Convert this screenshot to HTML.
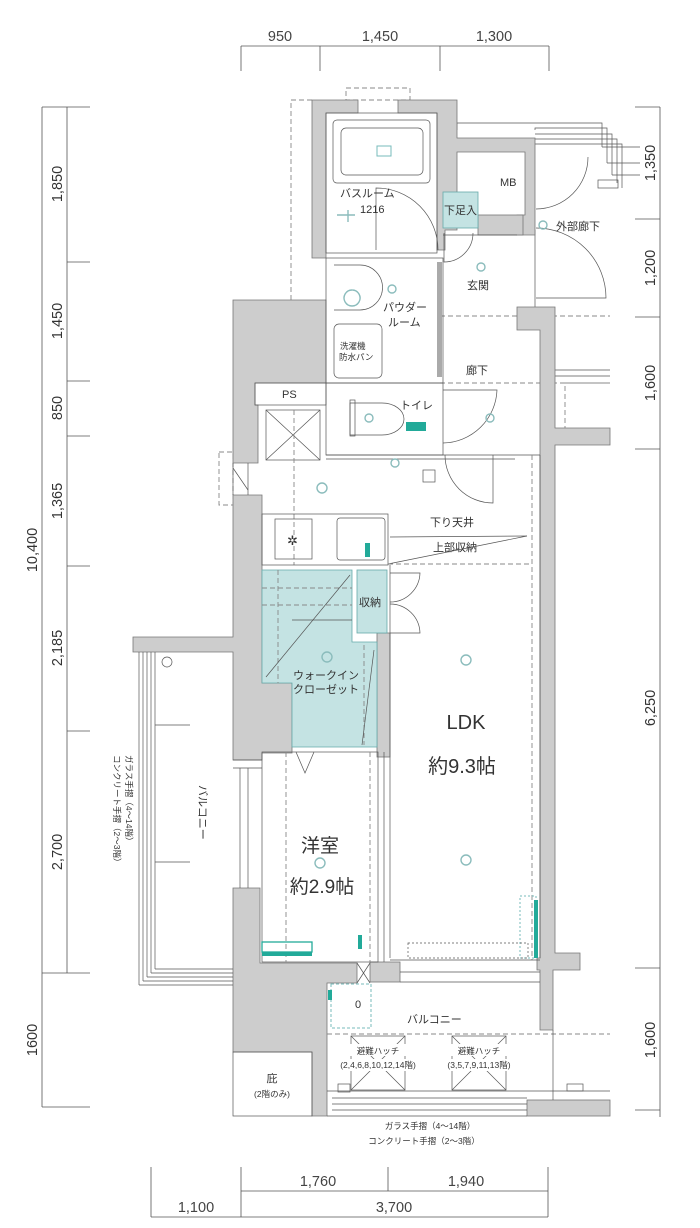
<!DOCTYPE html>
<html><head><meta charset="utf-8"><style>
html,body{margin:0;padding:0;background:#fff}
svg{display:block}
text{font-family:"Liberation Sans","Noto Sans CJK JP",sans-serif;fill:#333}
.g{fill:#cdcdcd;stroke:#777;stroke-width:.8}
.l{fill:none;stroke:#666;stroke-width:.9}
.t{fill:none;stroke:#555;stroke-width:.7}
.d{fill:none;stroke:#888;stroke-width:.9;stroke-dasharray:5 3}
.tl{fill:#c4e3e3;stroke:#6aa;stroke-width:.8}
.c{fill:none;stroke:#8bbcbc;stroke-width:1.4}
.dim{stroke:#555;stroke-width:.8;fill:none}
.dt{font-size:14.5px;fill:#444}
.s{font-size:11px}
.xs{font-size:8.5px}
</style></head><body>
<svg width="700" height="1228" viewBox="0 0 700 1228" xmlns="http://www.w3.org/2000/svg">
<g class="dim"><line x1="241" y1="46" x2="549" y2="46"/><line x1="241" y1="46" x2="241" y2="71"/><line x1="320" y1="46" x2="320" y2="71"/><line x1="440" y1="46" x2="440" y2="71"/><line x1="549" y1="46" x2="549" y2="71"/></g>
<text class="dt" x="280" y="41" text-anchor="middle">950</text>
<text class="dt" x="380" y="41" text-anchor="middle">1,450</text>
<text class="dt" x="494" y="41" text-anchor="middle">1,300</text>
<g class="dim"><line x1="42" y1="107" x2="42" y2="1107"/><line x1="67" y1="107" x2="67" y2="973"/>
<line x1="42" y1="107" x2="90" y2="107"/><line x1="67" y1="262" x2="90" y2="262"/><line x1="67" y1="381" x2="90" y2="381"/><line x1="67" y1="436" x2="90" y2="436"/><line x1="67" y1="566" x2="90" y2="566"/><line x1="67" y1="731" x2="90" y2="731"/><line x1="42" y1="973" x2="90" y2="973"/><line x1="42" y1="1107" x2="90" y2="1107"/></g>
<g class="dt" text-anchor="middle">
<text transform="translate(62,184) rotate(-90)">1,850</text>
<text transform="translate(62,321) rotate(-90)">1,450</text>
<text transform="translate(62,408) rotate(-90)">850</text>
<text transform="translate(62,501) rotate(-90)">1,365</text>
<text transform="translate(62,648) rotate(-90)">2,185</text>
<text transform="translate(62,852) rotate(-90)">2,700</text>
<text transform="translate(37,550) rotate(-90)">10,400</text>
<text transform="translate(37,1040) rotate(-90)">1600</text>
</g>
<g class="dim"><line x1="660" y1="107" x2="660" y2="1117"/><line x1="635" y1="107" x2="660" y2="107"/><line x1="635" y1="219" x2="660" y2="219"/><line x1="635" y1="317" x2="660" y2="317"/><line x1="635" y1="449" x2="660" y2="449"/><line x1="635" y1="968" x2="660" y2="968"/><line x1="635" y1="1110" x2="660" y2="1110"/></g>
<g class="dt" text-anchor="middle">
<text transform="translate(655,163) rotate(-90)">1,350</text>
<text transform="translate(655,268) rotate(-90)">1,200</text>
<text transform="translate(655,383) rotate(-90)">1,600</text>
<text transform="translate(655,708) rotate(-90)">6,250</text>
<text transform="translate(655,1040) rotate(-90)">1,600</text>
</g>
<g class="dim"><line x1="241" y1="1191" x2="548" y2="1191"/><line x1="151" y1="1217" x2="548" y2="1217"/>
<line x1="151" y1="1167" x2="151" y2="1217"/><line x1="241" y1="1167" x2="241" y2="1217"/><line x1="388" y1="1167" x2="388" y2="1191"/><line x1="548" y1="1167" x2="548" y2="1217"/></g>
<text class="dt" x="318" y="1186" text-anchor="middle">1,760</text>
<text class="dt" x="466" y="1186" text-anchor="middle">1,940</text>
<text class="dt" x="196" y="1212" text-anchor="middle">1,100</text>
<text class="dt" x="394" y="1212" text-anchor="middle">3,700</text>

<rect class="d" x="346" y="88" width="64" height="12"/>
<polyline class="d" points="312,100 291,100 291,300"/>
<g class="t">
<polyline points="457,130 457,123 602,123 602,147"/>
<polyline points="535,130 535,128 607,128 607,163"/>
<polyline points="535,134 612,134 612,175"/>
<polyline points="535,139 617,139 617,183"/>
<polyline points="535,144 622,144 622,188"/>
<line x1="602" y1="147" x2="640" y2="147"/><line x1="607" y1="163" x2="640" y2="163"/><line x1="612" y1="175" x2="640" y2="175"/>
<rect x="598" y="180" width="20" height="8"/>
<line x1="535" y1="230" x2="535" y2="312"/>
</g>
<path class="t" d="M588,157 A52,52 0 0 1 536,209"/>
<path class="t" d="M536,228 A70,70 0 0 1 606,298 L536,298"/>
<line class="d" x1="440" y1="316" x2="610" y2="316"/>
<line class="d" x1="440" y1="383" x2="610" y2="383"/>
<g class="t"><line x1="555" y1="370" x2="610" y2="370"/><line x1="555" y1="376" x2="610" y2="376"/></g>
<polyline class="d" points="610,383 565,383 565,428"/>

<path class="g" d="M312,100 H358 V113 H326 V258 H312 Z"/>
<path class="g" d="M398,100 H457 V138 H535 V235 H517 V215 H525 V152 H457 V230 H445 V250 H437 V113 H398 Z"/>
<rect class="g" x="478" y="215" width="45" height="20"/>
<path class="g" d="M233,300 H326 V383 H255 V405 H258 V463 H233 Z"/>
<path class="g" d="M233,495 H262 V683 H292 V753 H262 V760 H233 V652 H133 V637 H233 Z"/>
<path class="g" d="M233,888 H260 V963 H357 V983 H327 V1116 H312 V1052 H233 Z"/>
<rect class="g" x="370" y="962" width="30" height="20"/>
<path class="g" d="M517,307 H555 V428 H610 V445 H555 V953 H580 V970 H553 V1030 H540 V970 H537 V958 H540 V330 H517 Z"/>
<rect class="g" x="377" y="633" width="13" height="124"/>
<rect class="g" x="527" y="1100" width="83" height="16"/>
<rect class="d" x="219" y="452" width="14" height="53"/>
<g class="t"><line x1="233" y1="463" x2="233" y2="495"/><line x1="248" y1="463" x2="248" y2="495"/><line x1="233" y1="468" x2="248" y2="490"/></g>

<rect class="t" x="326" y="113" width="111" height="140"/>
<rect class="t" x="333" y="120" width="97" height="63" rx="4"/>
<rect class="t" x="341" y="128" width="82" height="47" rx="5"/>
<rect x="377" y="146" width="14" height="10" fill="none" stroke="#7bb" stroke-width="1"/>
<path class="t" d="M438,250 A62,62 0 0 0 376,188 L376,250"/>
<path class="c" d="M337,215 h18 M348,210 v12"/>
<text class="s" x="340" y="197">バスルーム</text>
<text class="s" x="360" y="213">1216</text>
<text class="s" x="500" y="186">MB</text>
<rect class="tl" x="443" y="192" width="35" height="36"/>
<text class="s" x="444" y="214">下足入</text>
<path class="t" d="M444,233 V262 A29,29 0 0 0 473,233"/>
<circle cx="543" cy="225" r="4" class="c"/>
<text class="s" x="556" y="230">外部廊下</text>
<rect class="t" x="326" y="258" width="117" height="125"/>
<path class="t" d="M334,265 H360 A22,22 0 0 1 360,310 H334"/>
<path class="c" d="M352,290 a8,8 0 1,0 0.1,0"/>
<rect class="t" x="334" y="324" width="48" height="54" rx="5"/>
<text class="s" x="383" y="311">パウダー</text>
<text class="s" x="388" y="326">ルーム</text>
<text class="xs" x="340" y="349">洗濯機</text>
<text class="xs" x="339" y="360">防水パン</text>
<circle cx="392" cy="289" r="4" class="c"/>
<rect x="437" y="262" width="5" height="115" fill="#aaa"/>
<line class="t" x1="443" y1="235" x2="517" y2="235"/>
<circle cx="481" cy="267" r="4" class="c"/>
<text class="s" x="467" y="289">玄関</text>
<text class="s" x="466" y="374">廊下</text>
<rect class="t" x="326" y="383" width="117" height="72"/>
<path class="t" d="M350,403 H382 A22,16 0 0 1 382,435 H350 Z"/>
<rect class="t" x="350" y="400" width="5" height="36"/>
<text class="s" x="400" y="409">トイレ</text>
<rect x="406" y="422" width="20" height="9" fill="#2a9" />
<circle cx="369" cy="418" r="4" class="c"/>
<path class="t" d="M443,443 A55,55 0 0 0 497,390 L443,390"/>
<circle cx="490" cy="418" r="4" class="c"/>
<rect class="t" x="255" y="383" width="71" height="22" fill="#fff"/>
<text class="s" x="282" y="398">PS</text>
<rect class="t" x="266" y="410" width="54" height="50"/>
<path class="t" d="M266,410 L320,460 M320,410 L266,460"/>
<line class="d" x1="294" y1="410" x2="294" y2="565"/>
<line class="t" x1="326" y1="455" x2="540" y2="455"/>
<line class="t" x1="326" y1="459" x2="515" y2="459"/>
<circle cx="322" cy="488" r="5" class="c"/>
<circle cx="395" cy="463" r="4" class="c"/>
<rect class="t" x="423" y="470" width="12" height="12"/>
<path class="t" d="M445,455 A48,48 0 0 0 493,503 V455"/>
<line class="d" x1="532" y1="455" x2="532" y2="960"/>
<text class="s" x="430" y="526">下り天井</text>
<text class="s" x="433" y="551">上部収納</text>
<polyline class="t" points="390,537 527,536"/>
<line class="t" x1="388" y1="564" x2="527" y2="536"/>
<line class="d" x1="388" y1="564" x2="532" y2="564"/>
<rect class="t" x="262" y="514" width="126" height="51"/>
<rect class="t" x="275" y="519" width="37" height="40" stroke-width="1.5"/>
<text x="287" y="545" font-size="13" fill="#7aa">✲</text>
<rect class="t" x="337" y="518" width="48" height="42" rx="3"/>
<rect x="365" y="543" width="5" height="14" fill="#2a9"/>
<path class="tl" d="M262,570 H352 V642 H377 V747 H292 V683 H262 Z"/>
<rect class="tl" x="357" y="570" width="30" height="63"/>
<g class="d" stroke="#8aa"><line x1="262" y1="588" x2="352" y2="588"/><line x1="262" y1="605" x2="352" y2="605"/><line x1="278" y1="570" x2="278" y2="683"/><line x1="364" y1="645" x2="364" y2="745"/></g>
<line class="t" x1="266" y1="677" x2="350" y2="575"/>
<line class="t" x1="362" y1="745" x2="374" y2="650"/>
<line class="t" x1="292" y1="620" x2="352" y2="620"/>
<circle cx="327" cy="657" r="5" class="c"/>
<text class="s" x="293" y="679">ウォークイン</text>
<text class="s" x="293" y="693">クローゼット</text>
<text class="s" x="359" y="606">収納</text>
<path class="t" d="M390,573 H420 A30,30 0 0 1 390,602 M390,633 H420 A30,30 0 0 0 390,604"/>
<line class="t" x1="390" y1="565" x2="390" y2="958"/>
<line class="t" x1="540" y1="455" x2="540" y2="958"/>
<line class="t" x1="390" y1="960" x2="540" y2="960"/>
<circle cx="466" cy="660" r="5" class="c"/>
<circle cx="466" cy="860" r="5" class="c"/>
<text x="466" y="729" font-size="20" text-anchor="middle">LDK</text>
<text x="462" y="773" font-size="20" text-anchor="middle">約9.3帖</text>
<rect x="520" y="896" width="16" height="62" fill="none" stroke="#7bb" stroke-dasharray="2 2"/>
<rect x="534" y="900" width="4" height="58" fill="#2a9"/>
<rect class="t" x="408" y="943" width="120" height="15" stroke-dasharray="2 2"/>
<rect class="t" x="262" y="752" width="116" height="210"/>
<line class="t" x1="384" y1="752" x2="384" y2="962"/>
<line class="d" x1="286" y1="752" x2="286" y2="962"/>
<line class="d" x1="370" y1="752" x2="370" y2="962"/>
<path class="t" d="M296,752 L305,773 L314,752"/>
<text x="320" y="852" font-size="19" text-anchor="middle">洋室</text>
<circle cx="320" cy="863" r="5" class="c"/>
<text x="322" y="893" font-size="19" text-anchor="middle">約2.9帖</text>
<rect x="262" y="942" width="50" height="10" fill="none" stroke="#2a9" stroke-width="1.3"/>
<rect x="262" y="952" width="50" height="4" fill="#2a9"/>
<rect x="358" y="935" width="4" height="14" fill="#2a9"/>
<line class="t" x1="357" y1="963" x2="370" y2="983"/><line class="t" x1="370" y1="963" x2="357" y2="983"/>
<line class="t" x1="400" y1="982" x2="540" y2="982"/>
<line class="t" x1="400" y1="972" x2="540" y2="972"/>
<rect x="331" y="984" width="40" height="44" fill="none" stroke="#7bb" stroke-dasharray="3 2"/>
<text class="s" x="355" y="1008" fill="#7bb">0</text>
<rect x="328" y="990" width="4" height="10" fill="#2a9"/>
<text class="s" x="407" y="1023">バルコニー</text>
<line class="d" x1="327" y1="1034" x2="610" y2="1034"/>
<rect class="t" x="351" y="1036" width="54" height="54"/>
<path class="t" d="M351,1036 L405,1090 M405,1036 L351,1090"/>
<rect class="t" x="452" y="1036" width="54" height="54"/>
<path class="t" d="M452,1036 L506,1090 M506,1036 L452,1090"/>
<rect x="344" y="1059" width="70" height="12" fill="#fff"/><rect x="445" y="1059" width="70" height="12" fill="#fff"/>
<rect x="344" y="1044" width="70" height="12" fill="#fff"/><rect x="445" y="1044" width="70" height="12" fill="#fff"/>
<text class="xs" x="378" y="1054" text-anchor="middle">避難ハッチ</text>
<text class="xs" x="479" y="1054" text-anchor="middle">避難ハッチ</text>
<text class="xs" x="378" y="1068" text-anchor="middle">(2,4,6,8,10,12,14階)</text>
<text class="xs" x="479" y="1068" text-anchor="middle">(3,5,7,9,11,13階)</text>
<line class="t" x1="553" y1="1030" x2="553" y2="1100"/>
<g class="t"><line x1="327" y1="1091" x2="610" y2="1091"/><line x1="332" y1="1098" x2="527" y2="1098"/><line x1="332" y1="1104" x2="527" y2="1104"/><line x1="332" y1="1110" x2="527" y2="1110"/><line x1="327" y1="1116" x2="527" y2="1116"/></g>
<rect class="t" x="338" y="1084" width="12" height="8"/><rect class="t" x="567" y="1084" width="16" height="7"/>
<text class="xs" x="430" y="1129" text-anchor="middle">ガラス手摺（4〜14階）</text>
<text class="xs" x="424" y="1144" text-anchor="middle">コンクリート手摺（2〜3階）</text>
<rect class="t" x="233" y="1052" width="79" height="64"/>
<text class="s" x="272" y="1082" text-anchor="middle">庇</text>
<text class="xs" x="272" y="1097" text-anchor="middle">(2階のみ)</text>
<g class="t">
<line x1="139" y1="652" x2="139" y2="985"/><line x1="143" y1="652" x2="143" y2="981"/><line x1="147" y1="652" x2="147" y2="977"/><line x1="151" y1="652" x2="151" y2="973"/><line x1="155" y1="652" x2="155" y2="969"/>
<line x1="139" y1="985" x2="233" y2="985"/><line x1="143" y1="981" x2="233" y2="981"/><line x1="147" y1="977" x2="233" y2="977"/><line x1="151" y1="973" x2="233" y2="973"/><line x1="155" y1="969" x2="233" y2="969"/>
<line x1="155" y1="725" x2="190" y2="725"/><line x1="155" y1="862" x2="190" y2="862"/>
<line x1="233" y1="760" x2="262" y2="760"/>
<line x1="233" y1="768" x2="262" y2="768"/>
<line x1="240" y1="768" x2="240" y2="888"/><line x1="248" y1="768" x2="248" y2="888"/>
</g>
<circle cx="167" cy="662" r="5" class="t"/>
<text class="s" transform="translate(199,785) rotate(90)">バルコニー</text>
<text class="xs" transform="translate(126,755) rotate(90)">ガラス手摺（4〜14階）</text>
<text class="xs" transform="translate(114,755) rotate(90)">コンクリート手摺（2〜3階）</text>
</svg>
</body></html>
